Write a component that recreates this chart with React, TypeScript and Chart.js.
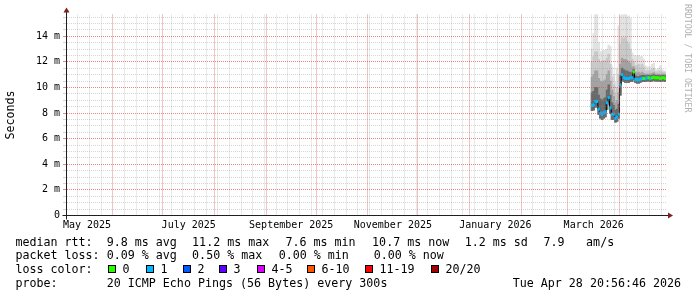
import React, { useEffect, useRef } from "react";
import { Chart, registerables } from "chart.js";

Chart.register(...registerables);

const W = 697;
const H = 297;
const DAY_MS = 86400000;
const MONO = '"DejaVu Sans Mono", "Liberation Mono", monospace';

// ---- time window ----
const END_TIME = "2026-04-28T20:56:46Z";
const SPAN_DAYS = 360;

// ---- x axis labels (each centred on its month) ----
const X_LABEL_MONTHS = ["2025-05", "2025-07", "2025-09", "2025-11", "2026-01", "2026-03"];
const X_LABELS = ["May 2025", "July 2025", "September 2025", "November 2025", "January 2026", "March 2026"];

// ---- y axis ----
const Y_MAX = 15.7;
const Y_MINOR_STEP = 0.5;
const Y_MAJOR_STEP = 2;
const Y_TITLE = "Seconds";

// ---- daily samples ----
const SAMPLE_DATES = [
  "2026-03-15", "2026-03-16", "2026-03-17", "2026-03-18", "2026-03-19", "2026-03-20", "2026-03-21",
  "2026-03-22", "2026-03-23", "2026-03-24", "2026-03-25", "2026-03-26", "2026-03-27", "2026-03-28",
  "2026-03-29", "2026-03-30", "2026-03-31", "2026-04-01", "2026-04-02", "2026-04-03", "2026-04-04",
  "2026-04-05", "2026-04-06", "2026-04-07", "2026-04-08", "2026-04-09", "2026-04-10", "2026-04-11",
  "2026-04-12", "2026-04-13", "2026-04-14", "2026-04-15", "2026-04-16", "2026-04-17", "2026-04-18",
  "2026-04-19", "2026-04-20", "2026-04-21", "2026-04-22", "2026-04-23", "2026-04-24", "2026-04-25",
  "2026-04-26", "2026-04-27", "2026-04-28",
];

// median rtt (ms)
const MEDIAN = [
  8.6, 8.65, 8.9, 8.9, 8.3, 8.0, 7.9, 8.0, 8.1, 8.8, 9.2, 8.4, 7.9, 7.9, 7.6, 7.7, 7.9,
  10.2, 11.0, 10.8, 10.7, 10.7, 10.7, 10.75, 10.75, 11.2, 10.65, 10.6, 10.6, 10.65, 10.7, 10.7,
  10.7, 10.75, 10.75, 10.7, 10.75, 10.8, 10.75, 10.75, 10.75, 10.7, 10.75, 10.75, 10.7,
];
// smoke: distribution of the 20 pings (ms)
const PING_MIN = [
  8.2, 8.25, 8.45, 8.5, 7.9, 7.6, 7.5, 7.6, 7.7, 8.3, 8.7, 8.0, 7.5, 7.5, 7.3, 7.35, 7.6,
  9.4, 10.6, 10.45, 10.4, 10.4, 10.4, 10.45, 10.45, 10.6, 10.4, 10.35, 10.35, 10.4, 10.45, 10.45,
  10.45, 10.5, 10.5, 10.45, 10.5, 10.55, 10.5, 10.5, 10.5, 10.45, 10.5, 10.5, 10.45,
];
const PING_P60 = [
  9.6, 9.7, 10.0, 10.0, 9.4, 9.1, 9.0, 9.1, 9.2, 9.8, 10.2, 9.4, 8.8, 8.6, 8.2, 8.3, 8.7,
  10.9, 11.5, 11.4, 11.3, 11.3, 11.2, 11.2, 11.1, 11.4, 10.9, 10.85, 10.85, 10.9, 10.95, 10.95,
  10.9, 10.95, 10.95, 10.9, 10.95, 11.0, 10.95, 10.95, 10.95, 10.9, 10.95, 10.95, 10.9,
];
const PING_P75 = [
  10.8, 11.0, 11.3, 11.3, 10.7, 10.5, 10.4, 10.5, 10.6, 11.0, 11.3, 10.5, 9.8, 9.3, 8.8, 9.0, 9.6,
  11.8, 12.3, 12.2, 12.2, 12.1, 12.0, 11.9, 11.6, 11.6, 11.2, 11.1, 11.2, 11.1, 11.2, 11.1,
  11.05, 11.05, 11.05, 11.05, 11.1, 11.15, 11.05, 11.05, 11.05, 11.0, 11.05, 11.05, 11.0,
];
const PING_P90 = [
  12.0, 12.4, 12.8, 12.8, 12.2, 12.0, 12.0, 12.1, 12.1, 12.3, 12.6, 11.8, 10.8, 10.2, 9.6, 10.0, 11.0,
  13.4, 13.9, 13.8, 13.9, 13.6, 13.4, 13.0, 12.2, 12.0, 11.7, 11.7, 11.8, 11.6, 11.8, 11.6,
  11.3, 11.3, 11.3, 11.3, 11.4, 11.5, 11.25, 11.2, 11.3, 11.3, 11.2, 11.2, 11.15,
];
const PING_MAX = [
  13.0, 14.2, 15.8, 15.8, 13.5, 12.8, 12.8, 12.9, 12.9, 13.0, 13.3, 13.2, 11.6, 11.0, 10.4, 11.5, 14.8,
  15.6, 15.8, 15.7, 15.8, 15.5, 15.6, 15.4, 12.7, 12.5, 12.5, 12.4, 12.5, 12.4, 12.4, 12.2,
  11.7, 11.6, 11.6, 11.6, 11.8, 11.9, 11.4, 11.4, 11.5, 11.7, 11.4, 11.3, 11.3,
];
// packet loss (% of pings lost)
const LOSS_PCT = [
  0.25, 0.2, 0.3, 0.25, 0.35, 0.2, 0.25, 0.3, 0.5, 0.2, 0.15, 0.25, 0.3, 0.2, 0.25, 0.35, 0.2,
  0.15, 0.2, 0.1, 0.15, 0.1, 0.2, 0.1, 0.15, 0, 0.1, 0.15, 0.1, 0.05, 0.1, 0,
  0.05, 0.05, 0, 0.05, 0, 0, 0, 0, 0, 0, 0, 0, 0,
];

const SMOKE_COLORS = ["#e2e2e2", "#c9c9c9", "#a3a3a3", "#6a6a6a"];

const LOSS_CLASSES = [
  { label: "0", color: "#26ff00", upTo: 0 },
  { label: "1", color: "#00b8ff", upTo: 5 },
  { label: "2", color: "#0059ff", upTo: 10 },
  { label: "3", color: "#5e00ff", upTo: 15 },
  { label: "4-5", color: "#dd00ff", upTo: 25 },
  { label: "6-10", color: "#ff5500", upTo: 50 },
  { label: "11-19", color: "#ff0000", upTo: 95 },
  { label: "20/20", color: "#a10000", upTo: 100 },
];

// ---- legend texts ----
const RTT_STATS = ["9.8 ms avg", "11.2 ms max", "7.6 ms min", "10.7 ms now", "1.2 ms sd", "7.9", "am/s"];
const LOSS_STATS = ["0.09 % avg", "0.50 % max", "0.00 % min", "0.00 % now"];
const PROBE_TEXT = "20 ICMP Echo Pings (56 Bytes) every 300s";
const STAMP_TEXT = "Tue Apr 28 20:56:46 2026";
const WATERMARK = "RRDTOOL / TOBI OETIKER";

// ---- layout (pixels) ----
const AREA_LEFT = 66;
const AREA_RIGHT = 666;
const AREA_TOP = 14.5;
const AREA_BOTTOM = 215.5;
const RTT_STAT_X = [106.7, 192.1, 285.4, 372.1, 464.7, 543.4, 586.1];
const LOSS_STAT_X = [106.7, 192.1, 278.7, 373.7];
const LOSS_BOX_X = [108, 146, 183, 219, 257, 307, 365, 431];
const LINE_TOPS = [234.5, 248, 262, 275.5];

const GRID_MINOR = "rgba(143,143,143,0.38)";
const GRID_MAJOR = "rgba(222,79,79,0.68)";
const AXIS_COLOR = "#1f1f1f";
const ARROW_COLOR = "#7f1f1f";

const dayValue = (iso: string) => Date.parse(iso) / DAY_MS;

function lossClassIndex(pct: number) {
  if (pct <= 0) return 0;
  for (let i = 1; i < LOSS_CLASSES.length; i++) if (pct <= LOSS_CLASSES[i].upTo) return i;
  return LOSS_CLASSES.length - 1;
}

const axisArrows = {
  id: "axisArrows",
  afterDraw(chart: any) {
    const { ctx, chartArea } = chart;
    const { left, right, top, bottom } = chartArea;
    const ax = Math.round(left - 0.5) + 0.5;
    const ay = Math.round(bottom - 0.5) + 0.5;
    ctx.save();
    ctx.strokeStyle = AXIS_COLOR;
    ctx.lineWidth = 1;
    ctx.beginPath();
    ctx.moveTo(ax - 4, ay);
    ctx.lineTo(right + 4, ay);
    ctx.moveTo(ax, ay + 4);
    ctx.lineTo(ax, top - 4);
    ctx.stroke();
    ctx.fillStyle = ARROW_COLOR;
    ctx.beginPath();
    ctx.moveTo(right + 2, ay - 3);
    ctx.lineTo(right + 7, ay);
    ctx.lineTo(right + 2, ay + 3);
    ctx.closePath();
    ctx.fill();
    ctx.beginPath();
    ctx.moveTo(ax - 3, top - 2);
    ctx.lineTo(ax, top - 7);
    ctx.lineTo(ax + 3, top - 2);
    ctx.closePath();
    ctx.fill();
    ctx.restore();
  },
};

export default function App() {
  const ref = useRef<HTMLCanvasElement>(null);

  useEffect(() => {
    if (!ref.current) return;
    const endX = dayValue(END_TIME);
    const startX = endX - SPAN_DAYS;
    const xs = SAMPLE_DATES.map((d) => dayValue(d + "T12:00:00Z"));

    // x ticks: month starts (major), Sundays (minor), month-centred labels
    const xInfo = new Map<number, { grid: string; label: string }>();
    const s = new Date(startX * DAY_MS);
    let y = s.getUTCFullYear();
    let m = s.getUTCMonth() + 1;
    for (;;) {
      const v = Date.UTC(y, m, 1) / DAY_MS;
      if (v > endX) break;
      if (v >= startX) xInfo.set(v, { grid: "major", label: "" });
      m++;
      if (m > 11) { m = 0; y++; }
    }
    for (let n = Math.ceil(startX); n <= endX; n++) {
      if ((n + 4) % 7 === 0 && !xInfo.has(n)) xInfo.set(n, { grid: "minor", label: "" });
    }
    X_LABEL_MONTHS.forEach((ym, i) => {
      const [yy, mm] = ym.split("-").map(Number);
      const a = Date.UTC(yy, mm - 1, 1) / DAY_MS;
      const b = Date.UTC(yy, mm, 1) / DAY_MS;
      const mid = (a + b) / 2;
      const prev = xInfo.get(mid);
      xInfo.set(mid, { grid: prev ? prev.grid : "none", label: X_LABELS[i] });
    });
    const xTickValues = Array.from(xInfo.keys()).sort((a, b) => a - b);
    const xGridColor = (c: any) => {
      const info = xInfo.get(c.tick?.value);
      if (!info) return "rgba(0,0,0,0)";
      return info.grid === "major" ? GRID_MAJOR : info.grid === "minor" ? GRID_MINOR : "rgba(0,0,0,0)";
    };

    const yTickValues: number[] = [];
    for (let i = 0; i * Y_MINOR_STEP <= Y_MAX; i++) yTickValues.push(i * Y_MINOR_STEP);
    const isMajorY = (v: number) => Math.abs(v / Y_MAJOR_STEP - Math.round(v / Y_MAJOR_STEP)) < 1e-6;
    const yGridColor = (c: any) => (isMajorY(c.tick?.value ?? 0) ? GRID_MAJOR : GRID_MINOR);

    const smokeUppers = [PING_MAX, PING_P90, PING_P75, PING_P60];
    const smokeSets = smokeUppers.map((upper, li) => ({
      type: "bar" as const,
      data: xs.map((x, i) => ({ x, y: [PING_MIN[i], upper[i]] })),
      backgroundColor: SMOKE_COLORS[li],
      borderWidth: 0,
      grouped: false,
      barPercentage: 1,
      categoryPercentage: 1,
      inflateAmount: 0.4,
      order: 10 - li,
    }));

    const medianSet = {
      type: "line" as const,
      data: xs.map((x, i) => ({ x, y: MEDIAN[i] })),
      borderColor: "#000000",
      borderWidth: 1,
      pointRadius: 0,
      stepped: "middle" as const,
      fill: false,
      order: 2,
    };

    const classes = LOSS_PCT.map(lossClassIndex);
    const lossSets = LOSS_CLASSES.map((lc, k) => ({
      type: "line" as const,
      data: xs.map((x, i) => ({ x, y: classes[i] === k ? MEDIAN[i] : null })),
      showLine: false,
      pointStyle: "line" as const,
      pointRadius: 1.2,
      pointBorderWidth: 3,
      pointBorderColor: lc.color,
      pointBackgroundColor: lc.color,
      order: 1,
    }));

    const tickFont = { family: MONO, size: 10 };

    const chart = new Chart(ref.current, {
      type: "bar",
      data: { datasets: [...smokeSets, medianSet, ...lossSets] as any },
      options: {
        responsive: false,
        animation: false,
        events: [],
        layout: { padding: { top: AREA_TOP, right: W - AREA_RIGHT, bottom: 0, left: 0 } },
        plugins: { legend: { display: false }, tooltip: { enabled: false }, title: { display: false } },
        scales: {
          x: {
            type: "linear",
            min: startX,
            max: endX,
            offset: false,
            grid: {
              offset: false,
              color: xGridColor,
              lineWidth: 1,
              z: 1,
              drawTicks: true,
              tickLength: 2,
              tickColor: "rgba(0,0,0,0)",
            },
            border: { display: true, color: AXIS_COLOR, width: 1, dash: [1, 1], z: 2 },
            ticks: {
              autoSkip: false,
              maxRotation: 0,
              minRotation: 0,
              padding: 2,
              color: "#000",
              font: tickFont,
              callback: (v: any) => xInfo.get(v)?.label ?? "",
            },
            afterBuildTicks: (scale: any) => {
              scale.ticks = xTickValues.map((value) => ({ value }));
            },
            afterFit: (scale: any) => {
              scale.height = H - AREA_BOTTOM;
            },
          },
          y: {
            type: "linear",
            min: 0,
            max: Y_MAX,
            grid: {
              color: yGridColor,
              lineWidth: 1,
              z: 1,
              drawTicks: true,
              tickLength: 3,
              tickColor: yGridColor,
            },
            border: { display: true, color: AXIS_COLOR, width: 1, dash: [1, 1], z: 2 },
            ticks: {
              autoSkip: false,
              padding: 3,
              color: "#000",
              font: tickFont,
              callback: (v: any) => {
                const n = Number(v);
                if (!isMajorY(n)) return "";
                return n === 0 ? "0" : `${Math.round(n)} m`;
              },
            },
            title: {
              display: true,
              text: Y_TITLE,
              color: "#000",
              font: { family: MONO, size: 11.67 },
              padding: { top: 4, bottom: 0 },
            },
            afterBuildTicks: (scale: any) => {
              scale.ticks = yTickValues.map((value) => ({ value }));
            },
            afterFit: (scale: any) => {
              scale.width = AREA_LEFT;
            },
          },
        },
      },
      plugins: [axisArrows],
    });
    return () => chart.destroy();
  }, []);

  const textStyle = (left: number, top: number): React.CSSProperties => ({
    position: "absolute",
    left,
    top,
    fontFamily: MONO,
    fontSize: 11.67,
    lineHeight: "14px",
    whiteSpace: "pre",
    color: "#000",
  });

  return (
    <div style={{ position: "fixed", left: 0, top: 0, width: W, height: H, background: "#fff", overflow: "hidden" }}>
      <canvas ref={ref} width={W} height={H} style={{ position: "absolute", left: 0, top: 0 }} />
      <div
        style={{
          position: "absolute",
          left: 683,
          top: 4,
          writingMode: "vertical-rl",
          fontFamily: MONO,
          fontSize: 8.2,
          lineHeight: "9px",
          color: "#b0b0b0",
          whiteSpace: "pre",
        }}
      >
        {WATERMARK}
      </div>

      <div style={textStyle(15.4, LINE_TOPS[0])}>median rtt:</div>
      {RTT_STATS.map((t, i) => (
        <div key={"r" + i} style={textStyle(RTT_STAT_X[i], LINE_TOPS[0])}>{t}</div>
      ))}

      <div style={textStyle(15.4, LINE_TOPS[1])}>packet loss:</div>
      {LOSS_STATS.map((t, i) => (
        <div key={"l" + i} style={textStyle(LOSS_STAT_X[i], LINE_TOPS[1])}>{t}</div>
      ))}

      <div style={textStyle(15.4, LINE_TOPS[2])}>loss color:</div>
      {LOSS_CLASSES.map((lc, i) => (
        <React.Fragment key={"c" + i}>
          <div
            style={{
              position: "absolute",
              left: LOSS_BOX_X[i],
              top: LINE_TOPS[2] + 2.5,
              width: 8,
              height: 8,
              boxSizing: "border-box",
              border: "1px solid #000",
              background: lc.color,
            }}
          />
          <div style={textStyle(LOSS_BOX_X[i] + 14.4, LINE_TOPS[2])}>{lc.label}</div>
        </React.Fragment>
      ))}

      <div style={textStyle(15.4, LINE_TOPS[3])}>probe:</div>
      <div style={textStyle(106.7, LINE_TOPS[3])}>{PROBE_TEXT}</div>
      <div style={textStyle(512.7, LINE_TOPS[3])}>{STAMP_TEXT}</div>
    </div>
  );
}
